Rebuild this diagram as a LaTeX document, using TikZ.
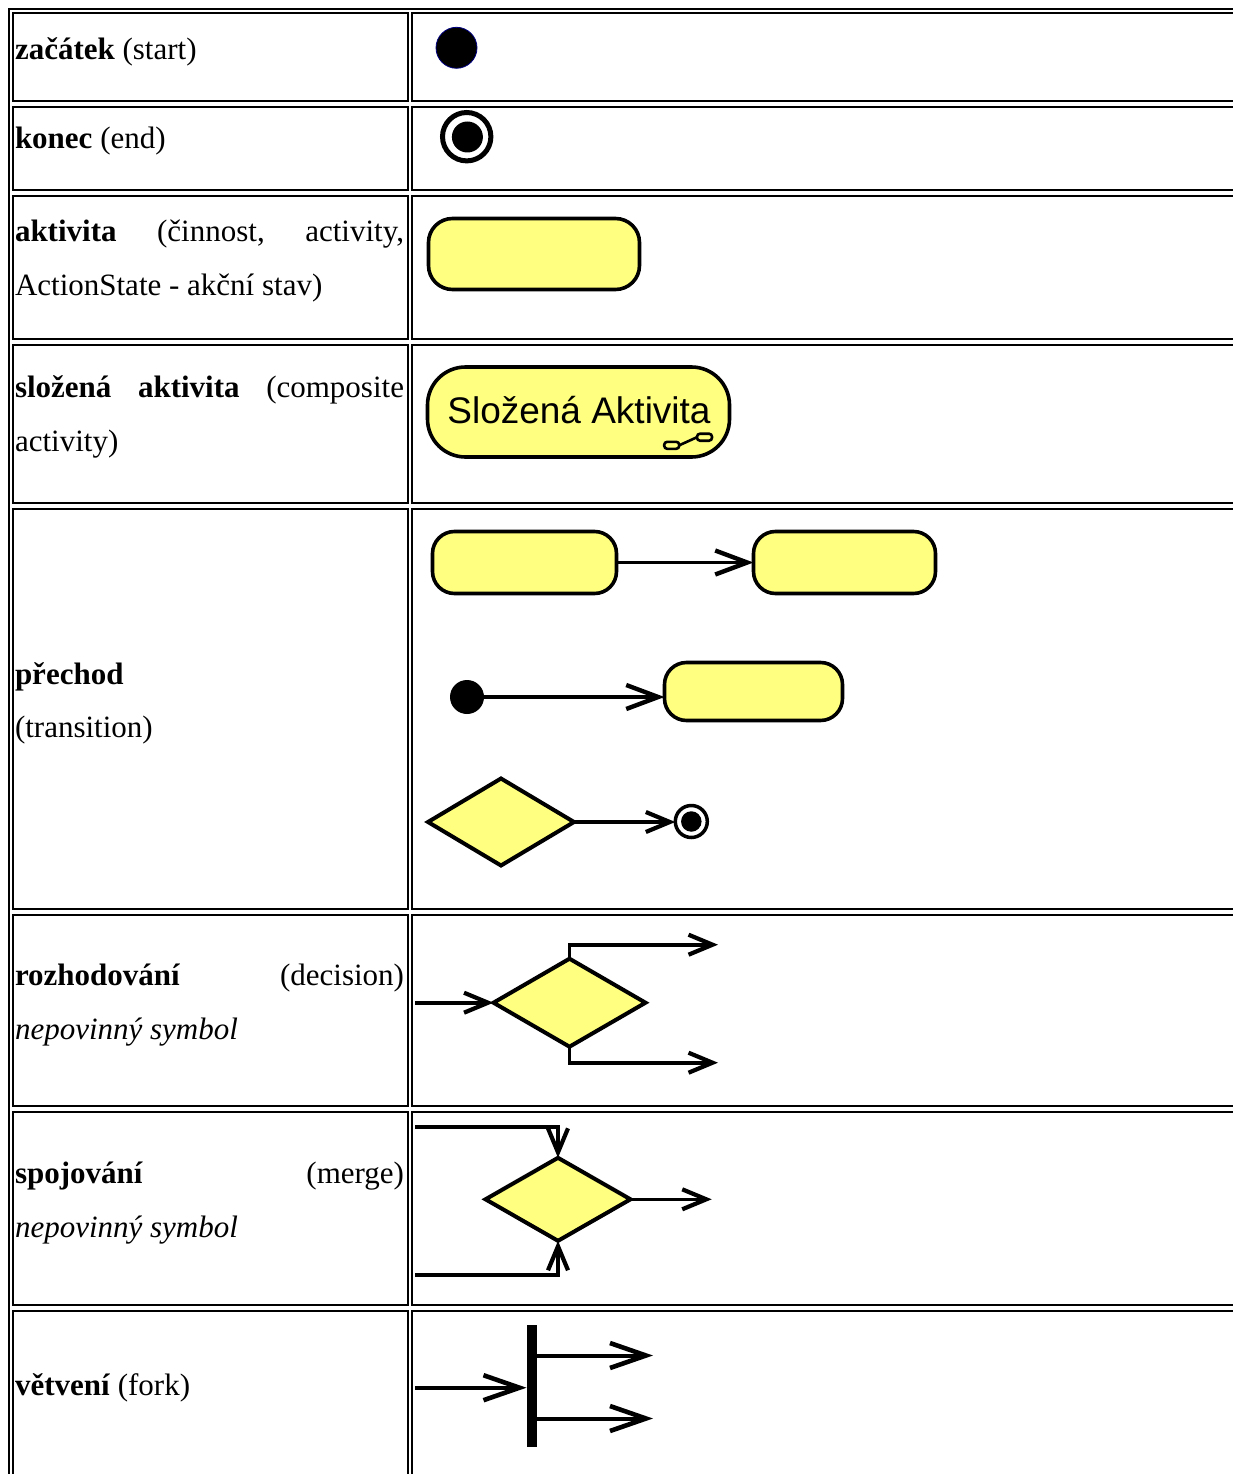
\documentclass[tikz,border=0pt]{standalone}
\usepackage{fontspec}
\setmainfont{Liberation Serif}
\newfontfamily\umlsans{Liberation Sans}
\usetikzlibrary{shapes.geometric,arrows.meta}
\definecolor{actfill}{RGB}{255,255,128}
\definecolor{dotedge}{RGB}{0,0,128}
\begin{document}
\begin{tikzpicture}[x=1pt,y=-1pt,
  cellline/.style={draw=black,line width=2pt},
  txt/.style={anchor=base west,inner sep=0pt,outer sep=0pt,font=\fontsize{31}{54}\selectfont},
  activity/.style={draw=black,fill=actfill,line width=3.6pt,rounded corners=#1,
    inner sep=0pt,outer sep=0pt,rectangle},
  decision/.style={diamond,draw=black,fill=actfill,line width=4pt,inner sep=0pt,outer sep=0pt},
  initial/.style={circle,fill=black,inner sep=0pt,outer sep=0pt},
  ring/.style={circle,draw=black,fill=white,inner sep=0pt,outer sep=0pt},
  iconpart/.style={rectangle,draw=black,line width=2.6pt,rounded corners=3pt,
    minimum width=15pt,minimum height=7pt,inner sep=0pt,outer sep=0pt},
  forkbar/.style={rectangle,fill=black,inner sep=0pt,outer sep=0pt,minimum width=10pt,minimum height=122pt},
  flow/.style={draw=black,line width=3.6pt,-{Straight Barb[length=24pt,width=20pt,line width=4.2pt]}},
  bigflow/.style={draw=black,line width=3.6pt,-{Straight Barb[length=32pt,width=24pt,line width=4.4pt]}},
  forkflow/.style={draw=black,line width=4pt,-{Straight Barb[length=36pt,width=25pt,line width=4.6pt]}},
]
\clip (0,0) rectangle (1233,1474);
\fill[white] (0,0) rectangle (1233,1474);

% table frame and cells
\draw[line width=2pt] (9,9) rectangle (1300,1520);
\foreach \t/\b in {13/101,107/190,196/339,345/503,509/909,915/1106,1112/1305,1311/1520}{
  \draw[cellline] (13,\t) rectangle (408,\b);
  \draw[cellline] (412,\t) rectangle (1300,\b);
}

% left column texts
\node[txt] (t1) at (15,60) {\textbf{začátek} (start)};
\node[txt] (t2) at (15,149) {\textbf{konec} (end)};
\node[txt] (t3a) at (15,241) {\makebox[389pt][l]{\textbf{aktivita}\hfill(činnost,\hfill activity,}};
\node[txt] (t3b) at (15,295) {ActionState - akční stav)};
\node[txt] (t4a) at (15,397) {\makebox[389pt][l]{\textbf{složená}\hfill\textbf{aktivita}\hfill(composite}};
\node[txt] (t4b) at (15,451) {activity)};
\node[txt] (t5a) at (15,684) {\textbf{přechod}};
\node[txt] (t5b) at (15,737) {(transition)};
\node[txt] (t6a) at (15,985) {\makebox[389pt][l]{\textbf{rozhodování}\hfill(decision)}};
\node[txt] (t6b) at (15,1039) {\textit{nepovinný symbol}};
\node[txt] (t7a) at (15,1183) {\makebox[389pt][l]{\textbf{spojování}\hfill(merge)}};
\node[txt] (t7b) at (15,1237) {\textit{nepovinný symbol}};
\node[txt] (t8) at (15,1395) {\textbf{větvení} (fork)};

% start
\node[initial,draw=dotedge,line width=0.8pt,minimum size=41pt] (start) at (456.5,47.8) {};

% end
\node[ring,line width=5pt,minimum size=48.4pt] (endring) at (466.7,136.7) {};
\node[initial,minimum size=31pt] (enddot) at (467.4,137) {};

% activity
\node[activity=24pt,minimum width=211pt,minimum height=71pt] (act) at (534,254) {};

% composite activity
\node[activity=38pt,minimum width=302pt,minimum height=90pt] (comp) at (578.5,412) {};
\node[anchor=base,inner sep=0pt,font=\umlsans\fontsize{37}{37}\selectfont] (comptext) at (579,423.3) {Složená Aktivita};
\node[iconpart] (ica) at (671.7,445.3) {};
\node[iconpart] (icb) at (704.5,437.2) {};
\draw[line width=2.6pt] (ica.east) -- (icb.west);

% transitions
\node[activity=22pt,minimum width=184pt,minimum height=62pt] (ta) at (524.5,562.5) {};
\node[activity=22pt,minimum width=182pt,minimum height=62pt] (tb) at (844.5,562.5) {};
\draw[bigflow] (ta.east) -- (tb.west);

\node[initial,minimum size=34pt] (tinit) at (467,697) {};
\node[activity=22pt,minimum width=178pt,minimum height=58pt] (tc) at (753.5,691.5) {};
\draw[bigflow] (tinit.east) -- (tinit.east -| tc.west);

\node[decision,minimum width=146pt,minimum height=87pt] (tdec) at (501,822) {};
\node[ring,line width=3.5pt,minimum size=32pt] (tend) at (691.3,821.5) {};
\node[initial,minimum size=20.5pt] (tenddot) at (691.3,821.5) {};
\draw[flow] (tdec.east) -- (tdec.east -| tend.west);

% decision
\node[decision,minimum width=152pt,minimum height=88pt] (dec) at (569.5,1002.7) {};
\coordinate (din) at (415,1002.7);
\coordinate (dout1) at (718,944.7);
\coordinate (dout2) at (718,1062.7);
\draw[flow] (din) -- (dec.west);
\draw[flow] (dec.north) |- (dout1);
\draw[flow] (dec.south) |- (dout2);

% merge
\node[decision,minimum width=145pt,minimum height=83pt] (mer) at (558,1199.3) {};
\coordinate (min1) at (415,1126.7);
\coordinate (min2) at (415,1275);
\coordinate (mout) at (711.7,1199.3);
\draw[flow] (min1) -| (mer.north);
\draw[flow] (min2) -| (mer.south);
\draw[flow] (mer.east) -- (mout);

% fork
\node[forkbar] (fork) at (531.5,1386) {};
\coordinate (fin) at (415,1387.7);
\coordinate (fo1) at (653,1355.5);
\coordinate (fo2) at (653,1418.5);
\draw[forkflow] (fin) -- (fin -| fork.west);
\draw[forkflow] (fo1 -| fork.east) -- (fo1);
\draw[forkflow] (fo2 -| fork.east) -- (fo2);
\end{tikzpicture}
\end{document}
